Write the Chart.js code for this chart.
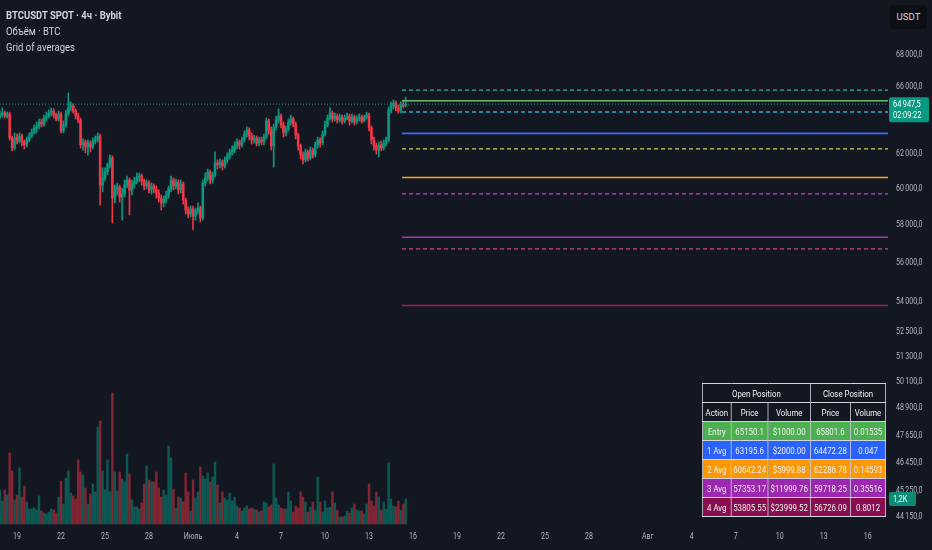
<!DOCTYPE html>
<html>
<head>
<meta charset="utf-8">
<script src="https://cdn.jsdelivr.net/npm/chart.js@4.4.1/dist/chart.umd.min.js"></script>
<style>
  html, body { margin: 0; padding: 0; background: #131722; }
  #wrap { position: relative; width: 932px; height: 550px; overflow: hidden; font-family: Roboto, "Noto Sans", sans-serif; }
  #chart { position: absolute; left: 0; top: 0; }
  #legend { position: absolute; left: 6px; top: 8px; color: #d1d4dc; font-size: 10.8px; line-height: 16px;
            transform: scaleX(0.88); transform-origin: 0 0; white-space: nowrap; }
  #legend .sym { font-weight: 700; }
  #unit { position: absolute; left: 890px; top: 5px; width: 37px; height: 24px; background: #0c0f16;
          border-radius: 4px; color: #d1d4dc; font-size: 9.6px; line-height: 24px; text-align: center; }
  #grid { position: absolute; left: 702px; top: 383px; transform: scaleX(0.8); transform-origin: 0 0; }
  #grid table { border-collapse: collapse; table-layout: fixed; font-size: 9.8px; color: #f2f2f2; }
  #grid td { border: 1px solid #d1d4dc; height: 18px; padding: 0; text-align: center; white-space: nowrap; background: #131722; }
</style>
</head>
<body>
<div id="wrap">
  <canvas id="chart" width="932" height="550"></canvas>
  <div id="legend">
    <div class="sym">BTCUSDT SPOT · 4ч · Bybit</div>
    <div>Объём · BTC</div>
    <div>Grid of averages</div>
  </div>
  <div id="unit">USDT</div>
  <div id="grid"></div>
</div>
<script>
// BTCUSDT 4h candles, 17 Jun 20:00 -> 15 Jul 08:00 (x in days from 1 Jul)
const firstCandleDay = -13 - 1 / 6;
const candleDays = 1 / 6;

const opens = [
  64170,64290,64410,64230,64350,62930,62340,62930,62750,63040,
  62690,62520,62810,63040,63280,63520,63580,63870,63750,64110,
  64230,64410,64530,64290,64050,64350,63340,63690,64350,64720,
  64840,64530,64230,63990,62520,62690,62400,62630,62400,62750,
  62870,63040,60220,60620,60960,61360,61760,59490,59940,60110,
  59550,59720,60220,60500,59940,60280,60450,60670,60730,60450,
  60160,60330,59940,60160,60000,59770,59490,59220,59440,59660,
  60000,60500,60160,60390,59940,60280,59380,58830,58610,58890,
  58500,58780,58940,58390,60330,60620,60960,60500,60790,61470,
  61360,61530,61300,61650,61880,62110,62220,62460,62690,62520,
  62810,63160,63400,63040,62810,62930,62630,62810,62690,62980,
  63930,63400,62460,63580,63990,64230,63690,63220,63460,63870,
  64050,63750,63100,62460,61930,61650,62110,61760,62220,61930,
  62520,62810,62630,63160,63690,64110,64410,64050,64230,63990,
  64170,63930,64110,64230,63930,64170,63870,64050,64170,63930,
  64170,64290,63520,62810,62460,62220,62520,62340,62630,62810,
  64590,64840,65020,64720,64530,64900,64840
];
const highs = [
  64530,64720,64530,64470,64470,63040,63220,63160,63220,63160,
  62810,62980,63220,63460,63690,63870,64050,64050,64290,64470,
  64590,64720,64660,64410,64530,64470,63930,64590,65630,65080,
  64960,64660,64410,64110,62870,62810,62810,62750,62930,63040,
  63220,63160,61190,61190,61470,61930,61880,60220,60330,60220,
  60050,60500,60730,60620,60500,60670,60900,60900,60840,60560,
  60500,60450,60330,60280,60160,59940,59660,59610,59880,60160,
  60730,60620,60560,60500,60500,60390,59490,59000,59050,59050,
  58940,59220,59050,60500,60900,61130,61070,60960,62110,61650,
  61700,61650,61820,62050,62280,62460,62690,62870,62810,62980,
  63340,63580,63520,63220,63100,63040,62980,62980,63160,64110,
  64050,63580,63750,64230,64660,64350,63870,63630,64050,64290,
  64170,63870,63220,62570,62110,62280,62220,62400,62340,62690,
  62980,62930,63340,63930,64290,64720,64530,64410,64350,64350,
  64290,64290,64410,64350,64350,64290,64230,64350,64290,64290,
  64470,64410,63630,62980,62630,62690,62750,62810,62980,64780,
  65080,65200,65140,64900,65080,65200,65380
];
const lows = [
  64050,64170,64110,64110,62810,62170,62220,62570,62630,62460,
  62280,62400,62690,62930,63160,63220,63460,63580,63630,63930,
  64110,64230,64110,63930,63930,63220,63220,63580,64230,64530,
  64410,64050,63810,62340,62220,62050,61930,62110,62280,62570,
  62690,59110,59830,60450,60790,61190,58120,59220,59660,59270,
  58280,59550,60050,58560,59660,60050,60280,60390,60220,59940,
  60000,59770,59720,59770,59490,59270,58830,59000,59220,59490,
  59830,59940,60000,59720,59770,59160,58610,58390,58450,57740,
  58280,58610,58180,58280,60160,60450,60280,60330,60670,61130,
  61190,61070,61190,61470,61700,61930,62050,62280,62280,62400,
  62690,62980,62810,62570,62630,62460,62460,62520,62520,62870,
  63160,62220,61240,63400,63810,63520,62980,63040,63340,63690,
  63580,62870,62220,61700,61420,61530,61590,61650,61760,61820,
  62340,62400,62520,63040,63580,63990,63870,63930,63810,63870,
  63750,63810,63990,63690,63810,63690,63750,63930,63810,63870,
  64050,63340,62570,62220,61990,61820,62170,62220,62460,62690,
  64410,64660,64530,64410,64410,64720,64780
];
const closes = [
  64290,64410,64230,64350,62930,62340,62930,62750,63040,62690,
  62520,62810,63040,63280,63520,63580,63870,63750,64110,64230,
  64410,64530,64290,64050,64350,63340,63690,64350,64720,64840,
  64530,64230,63990,62520,62690,62400,62630,62400,62750,62870,
  63040,60220,60620,60960,61360,61760,59490,59940,60110,59550,
  59720,60220,60500,59940,60280,60450,60670,60730,60450,60160,
  60330,59940,60160,60000,59770,59490,59220,59440,59660,60000,
  60500,60160,60390,59940,60280,59380,58830,58610,58890,58500,
  58780,58940,58390,60330,60620,60960,60500,60790,61470,61360,
  61530,61300,61650,61880,62110,62220,62460,62690,62520,62810,
  63160,63400,63040,62810,62930,62630,62810,62690,62980,63930,
  63400,62460,63580,63990,64230,63690,63220,63460,63870,64050,
  63750,63100,62460,61930,61650,62110,61760,62220,61930,62520,
  62810,62630,63160,63690,64110,64410,64050,64230,63990,64170,
  63930,64110,64230,63930,64170,63870,64050,64170,63930,64170,
  64290,63520,62810,62460,62220,62520,62340,62630,62810,64590,
  64840,65020,64720,64530,64900,64840,64947.5
];
// volume in BTC
const volumes = [
  1632,1104,1632,1392,3408,2544,1152,1392,2688,1296,
  1824,1056,720,720,768,672,1344,624,528,480,
  576,720,672,528,1296,2064,960,2208,2544,1488,
  1344,1200,3072,2496,2352,1728,960,1440,1920,1536,
  4656,4944,2544,1632,3072,1536,6288,2496,1584,2496,
  2160,2016,3360,2400,1152,816,816,720,1008,1920,
  2784,2112,2016,2016,2496,1728,1296,1632,1392,3744,
  3168,1680,768,1296,1248,1056,2448,1536,624,2112,
  1248,1536,2736,2304,2160,2448,2016,2256,2976,1872,
  1008,1536,1248,1152,1488,1104,1296,864,768,624,
  768,864,720,768,720,672,576,624,1056,1008,
  816,912,2880,1248,912,768,720,720,1536,1104,
  576,864,768,1536,1296,1056,576,816,1056,672,
  2256,1056,576,1104,768,816,1536,1008,672,336,
  336,384,624,528,768,960,672,624,624,480,
  960,1920,1104,864,1536,1296,672,1056,720,2928,
  1200,864,816,1104,672,960,1200
];

// grid of averages (table + levels)
const gridActions = ['Entry', '1 Avg', '2 Avg', '3 Avg', '4 Avg'];
const gridOpenPrice = [65150.1, 63195.6, 60642.24, 57353.17, 53805.55];
const gridOpenVolume = [1000.00, 2000.00, 5999.88, 11999.76, 23999.52];
const gridClosePrice = [65801.6, 64472.28, 62286.78, 59718.25, 56726.09];
const gridCloseVolume = ['0.01535', '0.047', '0.14593', '0.35516', '0.8012'];
const gridRowColors = ['#4caf50', '#2962ff', '#ff9800', '#9c27b0', '#880e4f'];
const gridLineColors = ['#66bb6a', '#3d6bff', '#ffa31a', '#ab34c4', '#b0185a'];
const gridCloseColors = ['#2bb5a0', '#27b0c4', '#d6d24a', '#cc44d6', '#cf4a86'];
const levelsStartDay = 14.25;

// axes
const xMin = -13.16, xMax = 47.38;
const xTickDays = [-12, -9, -6, -3, 0, 3, 6, 9, 12, 15, 18, 21, 24, 27, 31, 34, 37, 40, 43, 46];
const xTickLabels = ['19', '22', '25', '28', 'Июль', '4', '7', '10', '13', '16', '19', '22', '25', '28', 'Авг', '4', '7', '10', '13', '16'];
const yMin = 43746, yMax = 71586;
const yTickValues = [68000, 66000, 62000, 60000, 58000, 56000, 54000, 52500, 51300, 50100, 48900, 47650, 46450, 45250, 44150];
const volMin = -144, volMax = 25152;
const timerText = '02:09:22';

const upColor = '#089981';
const downColor = '#f23645';
const axisText = '#b2b5be';
const SX = 0.8;

function fmtPrice(v, dec) {
  const parts = v.toFixed(dec).split('.');
  return parts[0].replace(/\B(?=(\d{3})+(?!\d))/g, '\u2009') + ',' + parts[1];
}

function drawNarrow(ctx, text, x, y, align) {
  ctx.save();
  ctx.translate(x, y);
  ctx.scale(SX, 1);
  ctx.textAlign = align;
  ctx.fillText(text, 0, 0);
  ctx.restore();
}

const times = closes.map((c, i) => firstCandleDay + i * candleDays);
const isUp = closes.map((c, i) => c >= opens[i]);
const candleColors = isUp.map(u => (u ? upColor : downColor));
const volumeColors = isUp.map(u => (u ? 'rgba(8,153,129,0.5)' : 'rgba(242,54,69,0.5)'));
const lastClose = closes[closes.length - 1];
const lastVolume = volumes[volumes.length - 1];

let datasets = [];
datasets.push({
  type: 'bar', label: 'volume', yAxisID: 'v', order: 9, grouped: false,
  data: times.map((t, i) => ({ x: t, y: volumes[i] })),
  backgroundColor: volumeColors, barThickness: 1.8
});
datasets.push({
  type: 'bar', label: 'wick', yAxisID: 'y', order: 8, grouped: false,
  data: times.map((t, i) => ({ x: t, y: [lows[i], highs[i]] })),
  backgroundColor: candleColors, barThickness: 1
});
datasets.push({
  type: 'bar', label: 'body', yAxisID: 'y', order: 7, grouped: false,
  data: times.map((t, i) => ({ x: t, y: [opens[i], closes[i]] })),
  backgroundColor: candleColors, barThickness: 1.9, minBarLength: 1
});
for (let i = 0; i < gridOpenPrice.length; i++) {
  datasets.push({
    type: 'line', label: gridActions[i] + ' open', yAxisID: 'y', order: 3,
    data: [{ x: levelsStartDay, y: gridOpenPrice[i] }, { x: xMax, y: gridOpenPrice[i] }],
    borderColor: gridLineColors[i], borderWidth: 1.6, pointRadius: 0
  });
  datasets.push({
    type: 'line', label: gridActions[i] + ' close', yAxisID: 'y', order: 3,
    data: [{ x: levelsStartDay, y: gridClosePrice[i] }, { x: xMax, y: gridClosePrice[i] }],
    borderColor: gridCloseColors[i], borderWidth: 1.3, borderDash: [4, 3], pointRadius: 0
  });
}
datasets.push({
  type: 'line', label: 'last', yAxisID: 'y', order: 2,
  data: [{ x: xMin, y: lastClose }, { x: xMax, y: lastClose }],
  borderColor: upColor, borderWidth: 1, borderDash: [1, 2], pointRadius: 0
});

const tvLabels = {
  id: 'tvLabels',
  afterDraw(chart) {
    const ctx = chart.ctx;
    const area = chart.chartArea;
    const x = chart.scales.x, y = chart.scales.y, v = chart.scales.v;
    ctx.save();
    ctx.font = '8.8px Roboto';
    ctx.textBaseline = 'middle';
    ctx.fillStyle = axisText;
    yTickValues.forEach(val => {
      drawNarrow(ctx, fmtPrice(val, 1), area.right + 8, y.getPixelForValue(val), 'left');
    });
    xTickDays.forEach((d, i) => {
      drawNarrow(ctx, xTickLabels[i], x.getPixelForValue(d), area.bottom + 10, 'center');
    });
    // last price tag
    const py = y.getPixelForValue(lastClose);
    ctx.fillStyle = isUp[isUp.length - 1] ? upColor : downColor;
    ctx.beginPath();
    ctx.roundRect(area.right + 1, py - 7, 40, 25, 2);
    ctx.fill();
    ctx.fillStyle = '#ffffff';
    ctx.font = '9.2px Roboto';
    drawNarrow(ctx, fmtPrice(lastClose, 1), area.right + 5, py + 0.5, 'left');
    drawNarrow(ctx, timerText, area.right + 5, py + 12, 'left');
    // last volume tag
    const pv = v.getPixelForValue(lastVolume);
    ctx.fillStyle = '#0b8a75';
    ctx.beginPath();
    ctx.roundRect(area.right + 1, pv - 7, 27, 14, 2);
    ctx.fill();
    ctx.fillStyle = '#ffffff';
    drawNarrow(ctx, (lastVolume / 1000).toFixed(1).replace('.', ',') + 'K', area.right + 5, pv + 0.5, 'left');
    ctx.restore();
  }
};

new Chart(document.getElementById('chart'), {
  type: 'bar',
  data: { datasets: datasets },
  options: {
    responsive: false,
    animation: false,
    devicePixelRatio: 1,
    layout: { padding: 0 },
    plugins: { legend: { display: false }, tooltip: { enabled: false } },
    scales: {
      x: {
        type: 'linear', min: xMin, max: xMax, bounds: 'data', offset: false,
        grid: { display: false }, border: { display: false },
        ticks: { display: false },
        afterFit(s) { s.height = 23; }
      },
      y: {
        type: 'logarithmic', position: 'right', min: yMin, max: yMax, bounds: 'data',
        grid: { display: false }, border: { display: false },
        ticks: { display: false },
        afterFit(s) { s.width = 44; }
      },
      v: { type: 'linear', display: false, min: volMin, max: volMax }
    }
  },
  plugins: [tvLabels]
});

// table
function tableHTML() {
  let html = '<table><colgroup>' +
    '<col style="width:36px"><col style="width:46px"><col style="width:53px"><col style="width:50px"><col style="width:44px">' +
    '</colgroup><tbody>';
  html += '<tr><td colspan="3">Open Position</td><td colspan="2">Close Position</td></tr>';
  html += '<tr><td>Action</td><td>Price</td><td>Volume</td><td>Price</td><td>Volume</td></tr>';
  for (let i = 0; i < gridActions.length; i++) {
    const bg = 'style="background:' + gridRowColors[i] + '"';
    html += '<tr>' +
      '<td ' + bg + '>' + gridActions[i] + '</td>' +
      '<td ' + bg + '>' + gridOpenPrice[i] + '</td>' +
      '<td ' + bg + '>$' + gridOpenVolume[i].toFixed(2) + '</td>' +
      '<td ' + bg + '>' + gridClosePrice[i] + '</td>' +
      '<td ' + bg + '>' + gridCloseVolume[i] + '</td>' +
      '</tr>';
  }
  html += '</tbody></table>';
  return html;
}
document.getElementById('grid').innerHTML = tableHTML();
</script>
</body>
</html>
